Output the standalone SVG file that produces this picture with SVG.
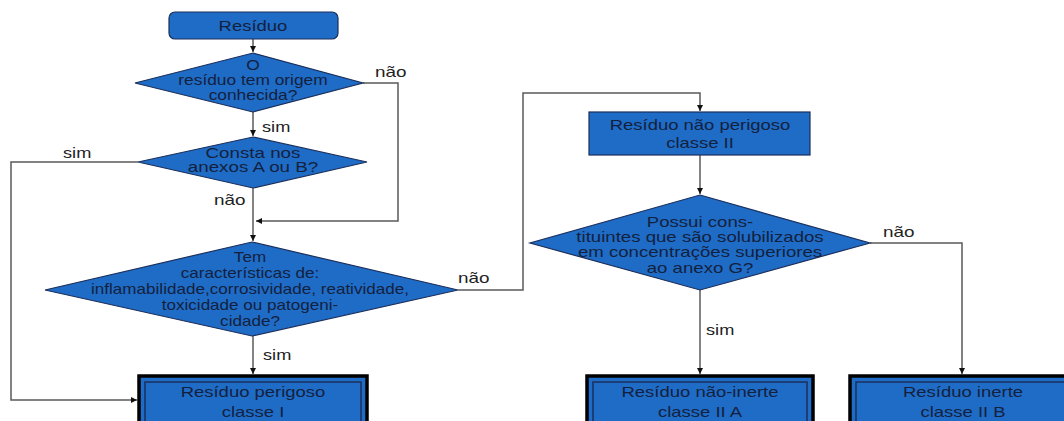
<svg xmlns="http://www.w3.org/2000/svg" width="1064" height="421" viewBox="0 0 1064 421">
<defs>
<style>
.shape{fill:#1f6cc6;stroke:#1b2f5c;stroke-width:1.2}
.outer{fill:#1f6cc6;stroke:#000;stroke-width:3.5}
.inner{fill:#1f6cc6;stroke:#1b2f5c;stroke-width:1.5}
.t{font-family:"Liberation Sans",Arial,sans-serif;font-size:14px;fill:#13213f;text-anchor:middle}
.l{font-family:"Liberation Sans",Arial,sans-serif;font-size:14px;fill:#222}
.c{fill:none;stroke:#5a5a5a;stroke-width:1.5}
</style>
<marker id="ah" viewBox="0 0 10 10" refX="10" refY="5" markerWidth="7" markerHeight="6" markerUnits="userSpaceOnUse" orient="auto">
<path d="M0,0 L10,5 L0,10 z" fill="#111"/>
</marker>
</defs>
<rect width="1064" height="421" fill="#fff"/>

<g id="connectors">
<path class="c" d="M253,39 V52" marker-end="url(#ah)"/>
<path class="c" d="M253,112 V136" marker-end="url(#ah)"/>
<path class="c" d="M363,83 H398 V221 H256" marker-end="url(#ah)"/>
<path class="c" d="M253,188 V241" marker-end="url(#ah)"/>
<path class="c" d="M138,162 H11 V400 H137" marker-end="url(#ah)"/>
<path class="c" d="M253,336 V374" marker-end="url(#ah)"/>
<path class="c" d="M458,290 H523 V93 H700 V111" marker-end="url(#ah)"/>
<path class="c" d="M700,155 V194" marker-end="url(#ah)"/>
<path class="c" d="M700,290 V374" marker-end="url(#ah)"/>
<path class="c" d="M870,243 H962 V374" marker-end="url(#ah)"/>
<text class="l" transform="translate(262 132) scale(1.3 1)">sim</text>
<text class="l" transform="translate(375 77) scale(1.35 1)">não</text>
<text class="l" transform="translate(214 205) scale(1.35 1)">não</text>
<text class="l" transform="translate(63 158) scale(1.3 1)">sim</text>
<text class="l" transform="translate(263 360) scale(1.3 1)">sim</text>
<text class="l" transform="translate(458 283) scale(1.35 1)">não</text>
<text class="l" transform="translate(706 335) scale(1.3 1)">sim</text>
<text class="l" transform="translate(883 237) scale(1.35 1)">não</text>
</g>

<g id="start">
<rect class="shape" x="169" y="12" width="169" height="27" rx="6"/>
<text class="t" transform="translate(253 0) scale(1.32 1)" y="31">Resíduo</text>
</g>

<g id="q1">
<polygon class="shape" points="253,53 363,83 253,112 135,83"/>
<text class="t" transform="translate(253 0) scale(1.24 1)"><tspan x="0" y="70">O</tspan><tspan x="0" y="85">resíduo tem origem</tspan><tspan x="0" y="100">conhecida?</tspan></text>
</g>

<g id="q2">
<polygon class="shape" points="253,137 367,162 253,188 138,162"/>
<text class="t" transform="translate(253 0) scale(1.34 1)"><tspan x="0" y="158">Consta nos</tspan><tspan x="0" y="172">anexos A ou B?</tspan></text>
</g>

<g id="q3">
<polygon class="shape" points="252,242 458,290 252,336 45,290"/>
<text class="t" transform="translate(250 0) scale(1.22 1)"><tspan x="0" y="262">Tem</tspan><tspan x="0" y="278">características de:</tspan><tspan x="0" y="294">inflamabilidade,corrosividade, reatividade,</tspan><tspan x="0" y="310">toxicidade ou patogeni-</tspan><tspan x="0" y="326">cidade?</tspan></text>
</g>

<g id="perigoso">
<rect class="outer" x="139" y="376" width="228" height="60"/>
<rect class="inner" x="145" y="382" width="216" height="50"/>
<text class="t" transform="translate(253 0) scale(1.32 1)"><tspan x="0" y="397">Resíduo perigoso</tspan><tspan x="0" y="417">classe I</tspan></text>
</g>

<g id="naoperigoso">
<rect class="shape" x="589" y="112" width="221" height="43"/>
<text class="t" transform="translate(700 0) scale(1.32 1)"><tspan x="0" y="130">Resíduo não perigoso</tspan><tspan x="0" y="148">classe II</tspan></text>
</g>

<g id="q4">
<polygon class="shape" points="700,195 870,243 700,290 530,243"/>
<text class="t" transform="translate(700 0) scale(1.33 1)"><tspan x="0" y="227">Possui cons-</tspan><tspan x="0" y="242">tituintes que são solubilizados</tspan><tspan x="0" y="257">em concentrações superiores</tspan><tspan x="0" y="273">ao anexo G?</tspan></text>
</g>

<g id="naoinerte">
<rect class="outer" x="587" y="376" width="226" height="60"/>
<rect class="inner" x="593" y="382" width="214" height="50"/>
<text class="t" transform="translate(700 0) scale(1.32 1)"><tspan x="0" y="397">Resíduo não-inerte</tspan><tspan x="0" y="417">classe II A</tspan></text>
</g>

<g id="inerte">
<rect class="outer" x="850" y="376" width="226" height="60"/>
<rect class="inner" x="856" y="382" width="214" height="50"/>
<text class="t" transform="translate(963 0) scale(1.32 1)"><tspan x="0" y="397">Resíduo inerte</tspan><tspan x="0" y="417">classe II B</tspan></text>
</g>
</svg>
